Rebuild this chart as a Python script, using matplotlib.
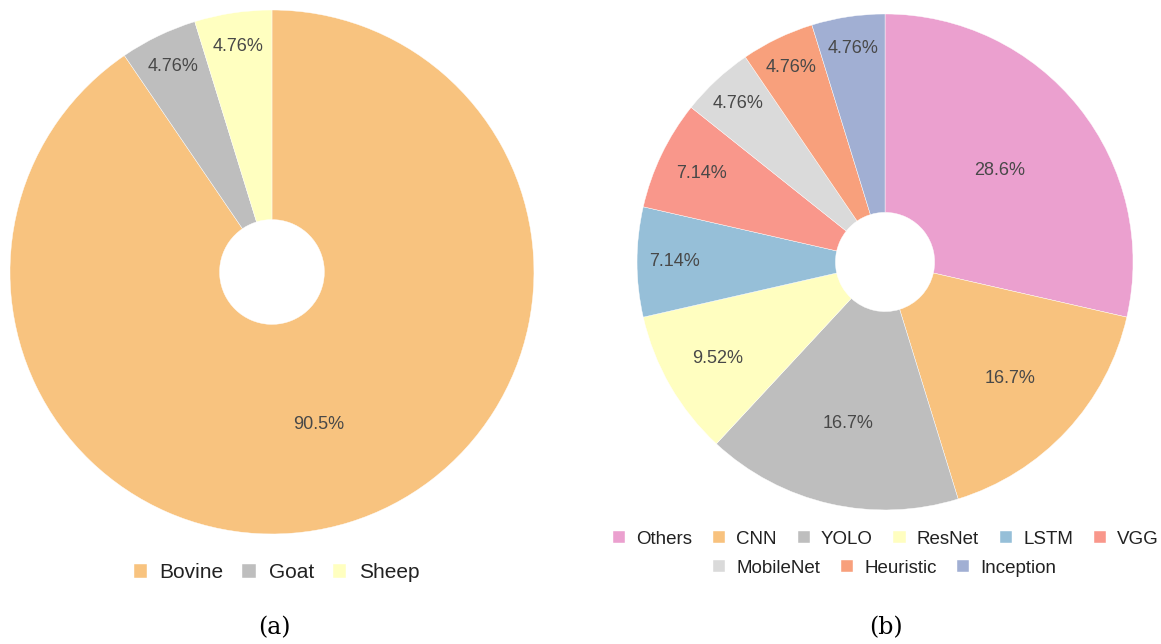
import numpy as np
import matplotlib.pyplot as plt

plt.rcParams['font.family'] = ['Liberation Sans', 'DejaVu Sans']

# (a) species
species = ['Bovine', 'Goat', 'Sheep']
species_counts = [19, 1, 1]
species_colors = ['#f8c37f', '#bebebe', '#ffffc0']
species_label_r = [0.61, 0.87, 0.87]

# (b) methods
methods = ['Others', 'CNN', 'YOLO', 'ResNet', 'LSTM', 'VGG',
           'MobileNet', 'Heuristic', 'Inception']
method_counts = [12, 7, 7, 4, 3, 3, 2, 2, 2]
method_colors = ['#eba0cf', '#f8c27e', '#bebebe', '#fffec0', '#96bfd8',
                 '#f9978b', '#dadada', '#f8a07c', '#a1afd3']
method_label_r = [0.59, 0.69, 0.67, 0.78, 0.85, 0.82, 0.87, 0.87, 0.87]

fig = plt.figure(figsize=(11.61, 6.44), dpi=100)
ax1 = fig.add_axes([0.0086, 0.1708, 0.4513, 0.8137])
ax2 = fig.add_axes([0.5487, 0.2081, 0.4272, 0.7702])


def donut(ax, counts, colors, label_r):
    wedges, _ = ax.pie(counts, colors=colors, startangle=90, counterclock=False,
                       wedgeprops=dict(width=0.8, edgecolor='white', linewidth=0.3))
    total = sum(counts)
    for w, c, r in zip(wedges, counts, label_r):
        ang = np.deg2rad((w.theta1 + w.theta2) / 2)
        ax.text(r * np.cos(ang), r * np.sin(ang), f'{100 * c / total:.3g}%',
                ha='center', va='center', fontsize=13, color='#484848')
    ax.set_xlim(-1, 1)
    ax.set_ylim(-1, 1)
    ax.set_aspect('equal')
    ax.axis('off')
    return wedges


w1 = donut(ax1, species_counts, species_colors, species_label_r)
w2 = donut(ax2, method_counts, method_colors, method_label_r)

leg_kw = dict(frameon=False, handlelength=0.65, handleheight=0.65,
              handletextpad=0.6, borderaxespad=0, labelcolor='#222222')
fig.legend(w1, species, loc='center', bbox_to_anchor=(0.238, 0.111),
           ncol=3, fontsize=15, columnspacing=0.9, **leg_kw)
fig.legend(w2[:6], methods[:6], loc='center', bbox_to_anchor=(0.763, 0.163),
           ncol=6, fontsize=13.5, columnspacing=1.1, **leg_kw)
fig.legend(w2[6:], methods[6:], loc='center', bbox_to_anchor=(0.762, 0.118),
           ncol=3, fontsize=13.5, columnspacing=1.1, **leg_kw)

fig.text(0.236, 0.025, '(a)', ha='center', va='center',
         family=['DejaVu Serif'], fontsize=17)
fig.text(0.763, 0.025, '(b)', ha='center', va='center',
         family=['DejaVu Serif'], fontsize=17)

fig.savefig('out.png', dpi=100)
